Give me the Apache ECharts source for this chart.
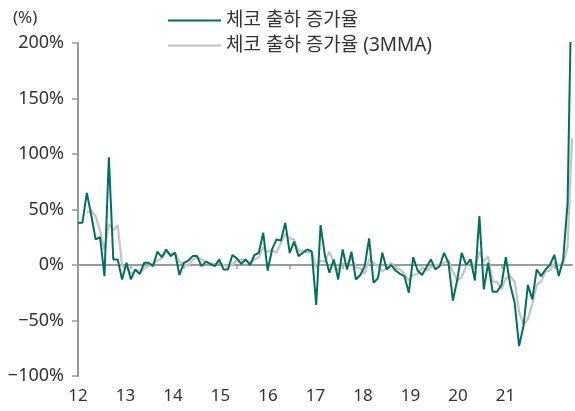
<!DOCTYPE html>
<html>
<head>
<meta charset="utf-8">
<script src="https://cdn.jsdelivr.net/npm/echarts@6/dist/echarts.min.js"></script>
<style>
  html, body { margin: 0; padding: 0; background: #fff; }
  #chart { width: 575px; height: 411px; }
</style>
</head>
<body>
<div id="chart"></div>
<script>
// 월별 데이터 (2012.01 ~ 2021.05)
const months = [];
for (let y = 2012; y <= 2021; y++) {
  for (let m = 1; m <= 12; m++) {
    if (y === 2021 && m > 5) break;
    months.push(y + "-" + String(m).padStart(2, "0"));
  }
}

// 체코 출하 증가율 (%)
const shipYoY = [
  38, 38, 65, 45, 23, 25, -10, 97, 5, 5, -13, 2,
  -13, -4, -8, 2, 2, -1, 12, 7, 14, 8, 11, -9,
  2, 4, 8, 8, -1, 3, 1, -1, 5, -4, -4, 9,
  6, 1, 5, 0, 9, 11, 29, -5, 14, 23, 22, 38,
  11, 21, 8, 11, 14, 12, -36, 36, 8, -7, 5, -13,
  14, -4, 12, -13, -9, -1, 24, -16, -12, 11, -4, 0,
  -5, -8, -10, -25, 7, -5, -9, -2, 5, -4, -1, 11,
  2, -32, -13, 11, 0, 5, -14, 44, -22, 2, -24, -24,
  -18, 7, -18, -34, -73, -55, -18, -31, -4, -10, -4, 0,
  9, -10, 5, 56, 280
];

// 체코 출하 증가율 (3MMA)
const shipYoY3m = [
  null, null, 47, 49, 44, 31, 13, 37, 31, 36, -1, -2,
  -8, -5, -8, -3, -1, 1, 4, 6, 11, 10, 11, 3,
  1, -1, 5, 7, 5, 3, 1, 1, 2, 0, -1, 0,
  4, 5, 4, 2, 5, 7, 16, 12, 13, 11, 20, 28,
  24, 23, 13, 13, 11, 12, -3, 4, 3, 12, 2, -5,
  2, -1, 7, -2, -3, -8, 5, 2, -1, -6, -2, 2,
  -3, -4, -8, -14, -9, -8, -2, -5, -2, 0, 0, 2,
  4, -6, -14, -11, -1, 5, -3, 12, 3, 8, -15, -15,
  -22, -12, -10, -15, -42, -54, -49, -35, -18, -15, -6, -5,
  2, 0, 1, 17, 114
];

const yearLabels = ["12", "13", "14", "15", "16", "17", "18", "19", "20", "21"];
const yTicks = [-100, -50, 0, 50, 100, 150, 200];

const FONT = "'Noto Sans', 'Noto Sans CJK KR', sans-serif";
const TXT = "#333";
const AXIS = "#9a9a9a";

const chart = echarts.init(document.getElementById("chart"));

chart.setOption({
  animation: false,
  textStyle: { fontFamily: FONT },
  title: {
    text: "(%)",
    left: 8,
    top: 5,
    textStyle: { fontFamily: FONT, fontSize: 17, fontWeight: "normal", color: TXT },
  },
  legend: {
    orient: "vertical",
    left: 163,
    top: 6,
    itemWidth: 53,
    itemHeight: 2,
    itemGap: 6,
    icon: "rect",
    textStyle: { fontFamily: FONT, fontSize: 19, color: TXT },
    data: ["체코 출하 증가율", "체코 출하 증가율 (3MMA)"],
  },
  grid: {
    left: 78,
    right: 0,
    top: 43,
    bottom: 35,
  },
  xAxis: [
    {
      type: "category",
      data: months,
      boundaryGap: false,
      position: "bottom",
      axisLine: {
        show: true,
        onZero: true,
        lineStyle: { color: AXIS, width: 2 },
      },
      axisTick: {
        show: true,
        interval: 11,
        length: 4,
        lineStyle: { color: AXIS, width: 1.5 },
      },
      axisLabel: { show: false },
      splitLine: { show: false },
    },
    {
      // 연도 라벨 (원본 위치에 맞춤)
      type: "value",
      position: "bottom",
      min: 0,
      max: 10.4,
      interval: 1,
      axisLine: { show: false, onZero: false },
      axisTick: { show: false },
      splitLine: { show: false },
      axisLabel: {
        margin: 12,
        fontFamily: FONT,
        fontSize: 17,
        color: TXT,
        formatter: (v) => (Number.isInteger(v) && v < yearLabels.length ? yearLabels[v] : ""),
      },
    },
  ],
  yAxis: {
    type: "value",
    min: yTicks[0],
    max: yTicks[yTicks.length - 1],
    interval: 50,
    axisLine: {
      show: true,
      onZero: false,
      lineStyle: { color: AXIS, width: 2 },
    },
    axisTick: {
      show: true,
      length: 6,
      lineStyle: { color: AXIS, width: 1.5 },
    },
    splitLine: { show: false },
    axisLabel: {
      margin: 14,
      fontFamily: FONT,
      fontSize: 18,
      color: TXT,
      formatter: (v) => (v < 0 ? "\u2212" + Math.abs(v) : v) + "%",
    },
  },
  series: [
    {
      name: "체코 출하 증가율 (3MMA)",
      type: "line",
      xAxisIndex: 0,
      data: shipYoY3m,
      symbol: "none",
      lineStyle: { color: "#c4c4c4", width: 2.2 },
      itemStyle: { color: "#c4c4c4" },
      z: 2,
    },
    {
      name: "체코 출하 증가율",
      type: "line",
      xAxisIndex: 0,
      data: shipYoY,
      symbol: "none",
      lineStyle: { color: "#00705e", width: 2 },
      itemStyle: { color: "#00705e" },
      z: 3,
    },
  ],
});

window.addEventListener("resize", () => chart.resize());
</script>
</body>
</html>
